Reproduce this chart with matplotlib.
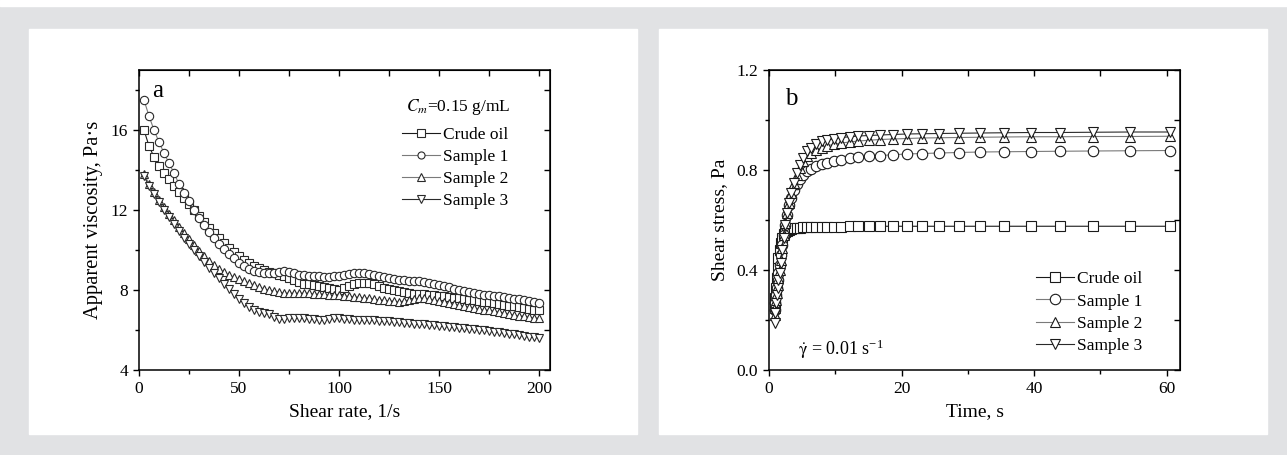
import numpy as np
import matplotlib
matplotlib.use('Agg')
import matplotlib.pyplot as plt
from matplotlib.patches import Rectangle

plt.rcParams['font.family'] = ['Liberation Serif', 'DejaVu Serif']
plt.rcParams['mathtext.fontset'] = 'stix'

# ---- panel a: viscosity vs shear rate ----
shear_rate = [2.5, 5, 7.5, 10, 12.5, 15, 17.5, 20, 22.5, 25, 27.5, 30, 32.5, 35, 37.5, 40,
              42.5, 45, 47.5, 50, 52.5, 55, 57.5, 60, 62.5, 65, 67.5, 70, 72.5, 75, 77.5, 80,
              82.5, 85, 87.5, 90, 92.5, 95, 97.5, 100, 102.5, 105, 107.5, 110, 112.5, 115, 117.5, 120,
              122.5, 125, 127.5, 130, 132.5, 135, 137.5, 140, 142.5, 145, 147.5, 150, 152.5, 155, 157.5, 160,
              162.5, 165, 167.5, 170, 172.5, 175, 177.5, 180, 182.5, 185, 187.5, 190, 192.5, 195, 197.5, 200]
visc_crude = [16.0, 15.2, 14.65, 14.2, 13.85, 13.55, 13.2, 12.9, 12.6, 12.3, 12.0, 11.7, 11.4, 11.1, 10.85, 10.6,
              10.35, 10.1, 9.9, 9.7, 9.5, 9.35, 9.2, 9.1, 9.0, 8.9, 8.85, 8.75, 8.7, 8.6, 8.5, 8.4,
              8.3, 8.3, 8.25, 8.2, 8.15, 8.1, 8.05, 8.0, 8.1, 8.2, 8.3, 8.35, 8.35, 8.35, 8.3, 8.2,
              8.1, 8.05, 8.0, 7.95, 7.9, 7.85, 7.8, 7.8, 7.8, 7.75, 7.75, 7.7, 7.7, 7.65, 7.6, 7.6,
              7.55, 7.5, 7.5, 7.45, 7.4, 7.4, 7.35, 7.3, 7.25, 7.2, 7.2, 7.15, 7.1, 7.05, 7.0, 7.0]
visc_s1 = [17.5, 16.7, 16.0, 15.4, 14.85, 14.35, 13.85, 13.3, 12.85, 12.45, 12.0, 11.6, 11.25, 10.9, 10.6, 10.3,
           10.05, 9.8, 9.6, 9.35, 9.2, 9.05, 8.95, 8.9, 8.85, 8.85, 8.85, 8.9, 8.95, 8.9, 8.85, 8.75,
           8.75, 8.7, 8.7, 8.7, 8.65, 8.65, 8.7, 8.7, 8.75, 8.8, 8.85, 8.85, 8.85, 8.8, 8.75, 8.7,
           8.65, 8.6, 8.55, 8.5, 8.5, 8.45, 8.45, 8.45, 8.4, 8.35, 8.3, 8.25, 8.2, 8.15, 8.05, 8.0,
           7.95, 7.9, 7.85, 7.8, 7.75, 7.75, 7.7, 7.7, 7.65, 7.6, 7.55, 7.55, 7.5, 7.45, 7.4, 7.35]
visc_s2 = [13.8, 13.3, 12.9, 12.5, 12.15, 11.8, 11.5, 11.15, 10.85, 10.55, 10.25, 9.95, 9.7, 9.45, 9.25, 9.05,
           8.9, 8.75, 8.65, 8.55, 8.45, 8.35, 8.25, 8.15, 8.05, 8.0, 7.95, 7.9, 7.85, 7.85, 7.85, 7.85,
           7.85, 7.85, 7.8, 7.8, 7.8, 7.75, 7.75, 7.75, 7.7, 7.7, 7.65, 7.65, 7.6, 7.6, 7.55, 7.5,
           7.5, 7.45, 7.45, 7.4, 7.45, 7.5, 7.55, 7.6, 7.6, 7.55, 7.5, 7.45, 7.4, 7.35, 7.3, 7.25,
           7.2, 7.15, 7.1, 7.05, 7.0, 7.0, 6.95, 6.9, 6.85, 6.8, 6.75, 6.7, 6.7, 6.65, 6.6, 6.6]
visc_s3 = [13.7, 13.2, 12.8, 12.4, 12.0, 11.65, 11.3, 10.95, 10.6, 10.3, 10.0, 9.7, 9.4, 9.1, 8.85, 8.6,
           8.3, 8.05, 7.8, 7.55, 7.35, 7.15, 7.0, 6.9, 6.85, 6.8, 6.65, 6.55, 6.55, 6.6, 6.6, 6.6,
           6.6, 6.55, 6.55, 6.5, 6.5, 6.55, 6.6, 6.6, 6.55, 6.55, 6.5, 6.5, 6.5, 6.5, 6.5, 6.45,
           6.45, 6.45, 6.4, 6.4, 6.35, 6.35, 6.3, 6.3, 6.3, 6.25, 6.25, 6.2, 6.2, 6.15, 6.15, 6.1,
           6.1, 6.05, 6.05, 6.0, 6.0, 5.95, 5.9, 5.9, 5.85, 5.8, 5.8, 5.75, 5.7, 5.65, 5.65, 5.6]

# ---- panel b: shear stress vs time ----
time_s = [0.84, 0.93, 1.04, 1.16, 1.29, 1.43, 1.59, 1.77, 1.97, 2.20, 2.44, 2.72, 3.03, 3.37,
          3.75, 4.17, 4.64, 5.17, 5.75, 6.40, 7.12, 7.93, 8.8, 9.8, 10.9, 12.2, 13.5, 15.1,
          16.8, 18.7, 20.8, 23.1, 25.7, 28.6, 31.9, 35.5, 39.5, 43.9, 48.9, 54.4, 60.5]
stress_crude = [0.26, 0.29, 0.33, 0.37, 0.41, 0.45, 0.48, 0.51, 0.53, 0.545, 0.553, 0.558, 0.562, 0.565,
                0.567, 0.569, 0.570, 0.571, 0.572, 0.573, 0.573, 0.574, 0.574, 0.574, 0.574, 0.575, 0.575, 0.575,
                0.575, 0.575, 0.575, 0.575, 0.575, 0.575, 0.575, 0.575, 0.575, 0.575, 0.575, 0.575, 0.575]
stress_s1 = [0.24, 0.27, 0.30, 0.33, 0.36, 0.39, 0.42, 0.46, 0.50, 0.54, 0.58, 0.62, 0.66, 0.69,
             0.72, 0.745, 0.765, 0.78, 0.795, 0.805, 0.815, 0.823, 0.83, 0.836, 0.842, 0.847, 0.851, 0.855,
             0.858, 0.861, 0.864, 0.866, 0.868, 0.870, 0.872, 0.873, 0.874, 0.875, 0.876, 0.877, 0.878]
stress_s2 = [0.22, 0.25, 0.28, 0.31, 0.34, 0.37, 0.40, 0.44, 0.49, 0.54, 0.59, 0.63, 0.67, 0.71,
             0.75, 0.78, 0.81, 0.835, 0.855, 0.87, 0.88, 0.89, 0.897, 0.903, 0.908, 0.912, 0.916, 0.919,
             0.922, 0.924, 0.926, 0.928, 0.929, 0.930, 0.931, 0.932, 0.933, 0.933, 0.934, 0.934, 0.935]
stress_s3 = [0.19, 0.23, 0.27, 0.30, 0.33, 0.36, 0.39, 0.43, 0.48, 0.53, 0.58, 0.63, 0.67, 0.71,
             0.75, 0.79, 0.82, 0.85, 0.875, 0.89, 0.905, 0.915, 0.92, 0.925, 0.93, 0.933, 0.936, 0.938,
             0.94, 0.942, 0.944, 0.945, 0.946, 0.947, 0.948, 0.949, 0.95, 0.95, 0.951, 0.952, 0.952]

labels = ['Crude oil', 'Sample 1', 'Sample 2', 'Sample 3']
markers = ['s', 'o', '^', 'v']
linecols = ['#1a1a1a', '#7a7a7a', '#7a7a7a', '#2a2a2a']

W, H = 1287, 455
fig = plt.figure(figsize=(W/100, H/100), dpi=100)
fig.patch.set_facecolor('#e1e2e4')
# white panels behind the two plots
for r in [(0, 1-6/H, 1, 6/H), (29/W, 21/H, 608/W, 405/H), (659/W, 21/H, 608/W, 405/H)]:
    fig.add_artist(Rectangle(r[:2], r[2], r[3], transform=fig.transFigure,
                             color='white', zorder=-10))

ax1 = fig.add_axes([139/W, 85/H, 411/W, 300/H])
ax2 = fig.add_axes([769/W, 85/H, 411/W, 300/H])

ys1 = [visc_crude, visc_s1, visc_s2, visc_s3]
for y, m, c, lab in zip(ys1, markers, linecols, labels):
    ax1.plot(shear_rate, y, marker=m, ms=6, mfc='white', mec='#2a2a2a', mew=0.8,
             color=c, lw=0.8, label=lab)
ax1.set_xlim(0, 205.5)
ax1.set_ylim(4, 19)
ax1.set_xticks([0, 50, 100, 150, 200])
ax1.set_xticks([25, 75, 125, 175], minor=True)
ax1.set_yticks([4, 8, 12, 16])
ax1.set_yticks([6, 10, 14, 18], minor=True)
ax1.set_xlabel('Shear rate, 1/s', fontsize=14, labelpad=4)
ax1.set_ylabel('Apparent viscosity, Pa·s', fontsize=14.8, labelpad=5)
ax1.text(0.032, 0.93, 'a', transform=ax1.transAxes, fontsize=18, va='center', ha='left')
ax1.text(0.776, 0.877, r'$C_m$=0.15 g/mL', transform=ax1.transAxes, fontsize=12.5,
         va='center', ha='center')
ax1.legend(loc='upper left', bbox_to_anchor=(0.64, 0.81), frameon=False, fontsize=12.5,
           handlelength=2.2, handletextpad=0.17, labelspacing=0.33, borderpad=0,
           borderaxespad=0, markerscale=0.85)

ys2 = [stress_crude, stress_s1, stress_s2, stress_s3]
for y, m, c, lab in zip(ys2, markers, linecols, labels):
    ax2.plot(time_s, y, marker=m, ms=7.5, mfc='white', mec='#1a1a1a', mew=0.8,
             color=c, lw=0.8, label=lab)
ax2.set_xlim(0, 62)
ax2.set_ylim(0, 1.2)
ax2.set_xticks([0, 20, 40, 60])
ax2.set_xticks([10, 30, 50], minor=True)
ax2.set_yticks([0.0, 0.4, 0.8, 1.2])
ax2.set_yticklabels(['0.0', '0.4', '0.8', '1.2'])
ax2.set_yticks([0.2, 0.6, 1.0], minor=True)
ax2.set_xlabel('Time, s', fontsize=14, labelpad=4)
ax2.set_ylabel('Shear stress, Pa', fontsize=14, labelpad=6)
ax2.text(0.039, 0.883, 'b', transform=ax2.transAxes, fontsize=18, va='baseline', ha='left')
ax2.text(0.07, 0.05, r'$\mathrm{\dot{\gamma}}$ = 0.01 s$^{\mathregular{-1}}$', transform=ax2.transAxes,
         fontsize=13, va='baseline', ha='left')
ax2.legend(loc='upper left', bbox_to_anchor=(0.65, 0.33), frameon=False, fontsize=12.5,
           handlelength=2.2, handletextpad=0.17, labelspacing=0.36, borderpad=0, borderaxespad=0)

for ax in (ax1, ax2):
    for s in ax.spines.values():
        s.set_linewidth(1.1)
    ax.tick_params(which='both', labelsize=12.5, width=1.0, direction='out', top=False, right=False)
    ax.tick_params(which='major', length=4.5)
    ax.tick_params(which='minor', length=3)
    # inward ticks along top and right
    tx = ax.secondary_xaxis('top')
    tx.set_xticks(list(ax.get_xticks()) + list(ax.get_xticks(minor=True)))
    tx.tick_params(direction='in', length=4.5, width=1.0, labeltop=False)
    ty = ax.secondary_yaxis('right')
    ty.set_yticks(list(ax.get_yticks()) + list(ax.get_yticks(minor=True)))
    ty.tick_params(direction='in', length=4.5, width=1.0, labelright=False)

plt.savefig('out.png', dpi=100)
